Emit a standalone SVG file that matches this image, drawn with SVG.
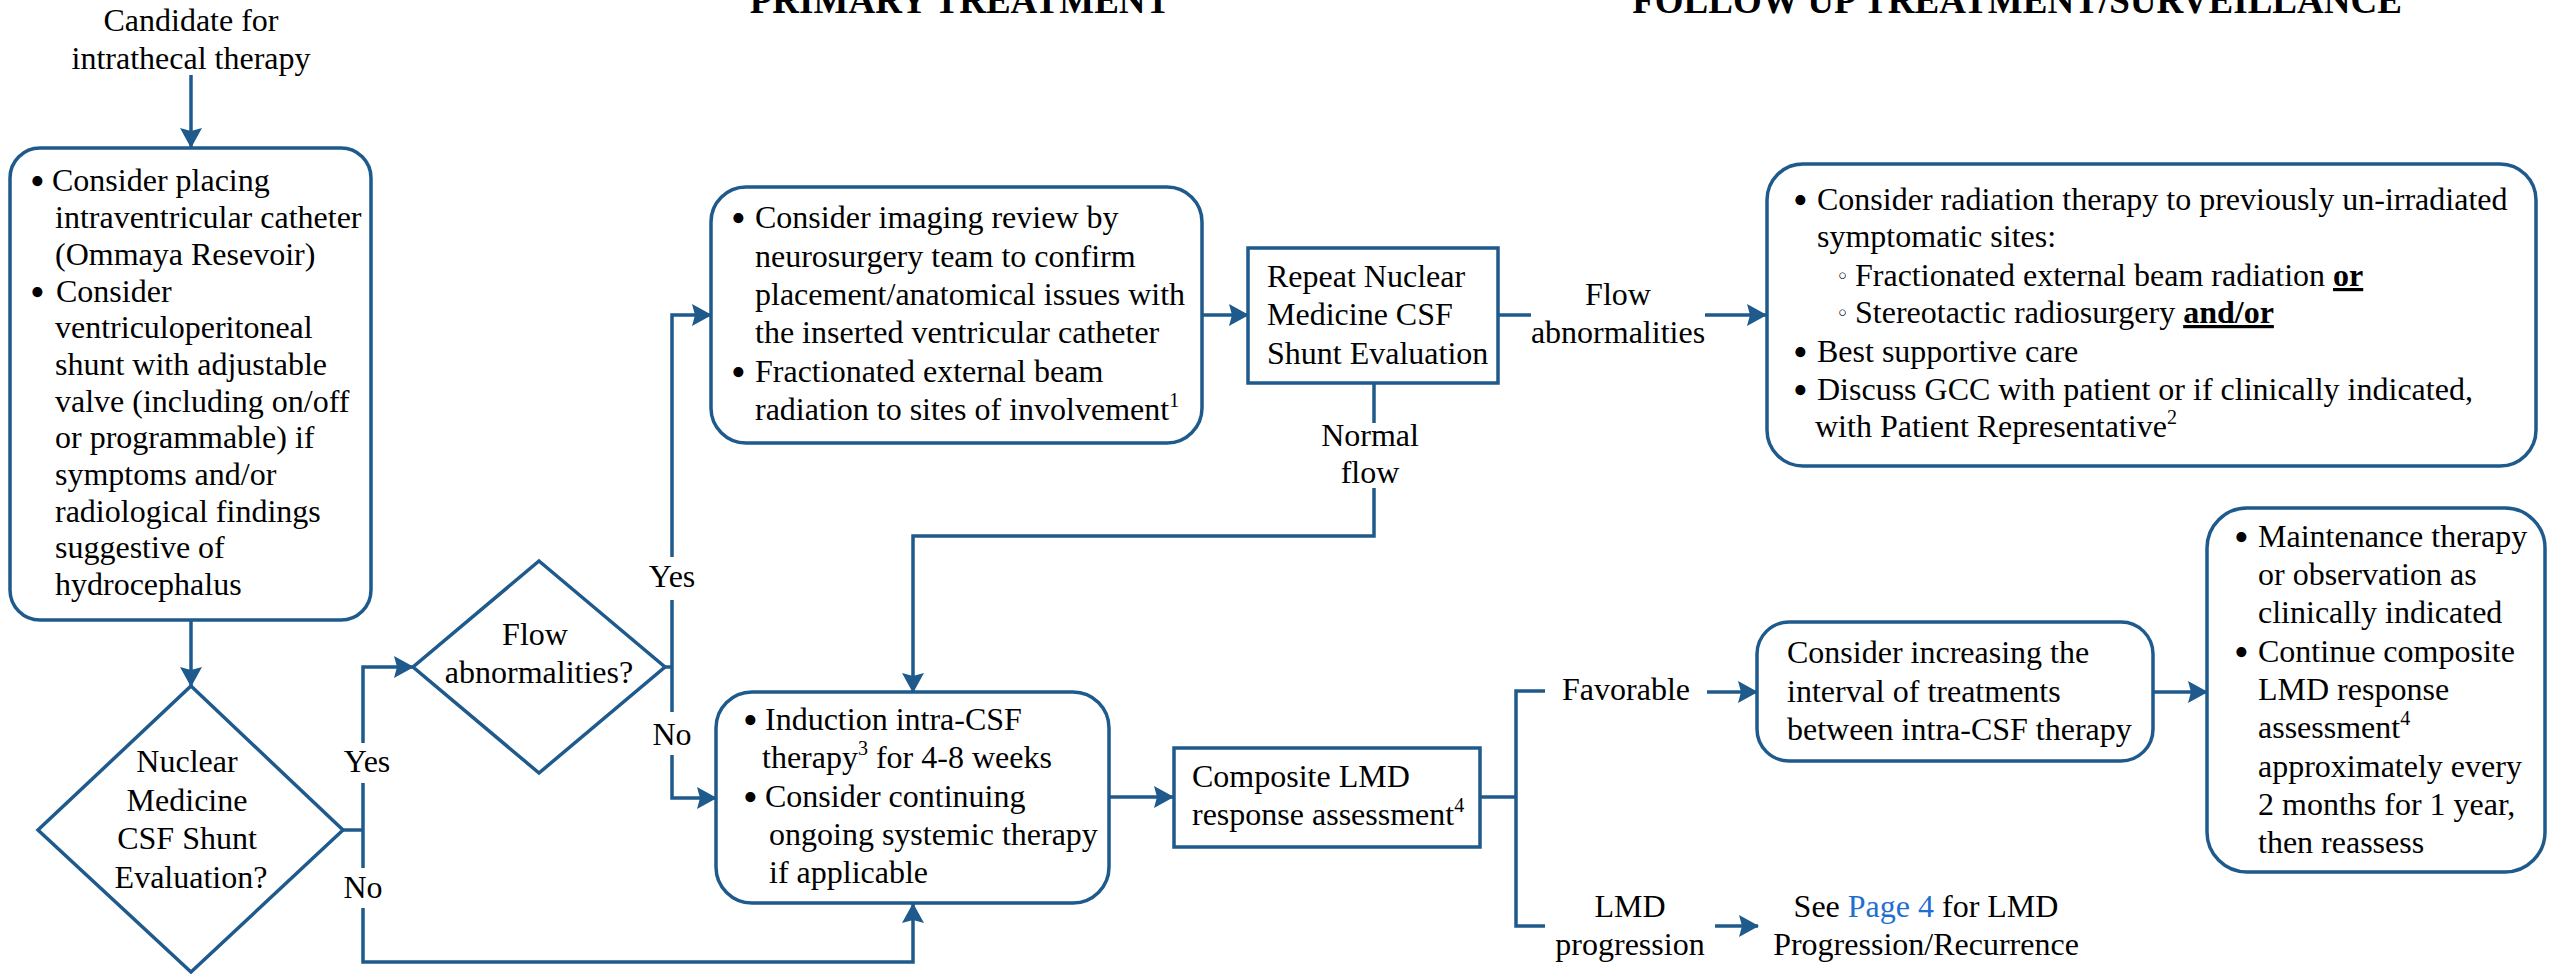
<svg xmlns="http://www.w3.org/2000/svg" width="2556" height="974" viewBox="0 0 2556 974">
<style>
.t{font-family:'Liberation Serif',Tinos,'Times New Roman','Nimbus Roman','DejaVu Serif',serif;font-size:32px;fill:#000}
.c{text-anchor:middle}
.h{font-weight:bold;font-size:37px}
.box{fill:#fff;stroke:#1f5a8c;stroke-width:3.5}
.ln{fill:none;stroke:#1f5a8c;stroke-width:3.5}
.arr{fill:none;stroke:#1f5a8c;stroke-width:3.5;marker-end:url(#ah)}
.sup{font-size:20px}
.bu{font-weight:bold;text-decoration:underline}
.lk{fill:#1f6fd0}
.bl{font-size:42px}
.sb{font-family:'DejaVu Sans',sans-serif;font-size:22px}
</style>
<defs>
<marker id="ah" viewBox="0 0 20 22" refX="19" refY="11" markerWidth="20" markerHeight="22" markerUnits="userSpaceOnUse" orient="auto">
<path d="M0,0 L20,11 L0,22 L3,11 Z" fill="#1f5a8c"/>
</marker>
</defs>
<rect width="2556" height="974" fill="#fff"/>

<g id="headers">
<text class="t h c" x="960" y="13">PRIMARY TREATMENT</text>
<text class="t h c" x="2017" y="13">FOLLOW UP TREATMENT/SURVEILLANCE</text>
</g>

<g id="connectors">
<path class="arr" d="M191,75 V147"/>
<path class="arr" d="M191,620 V686"/>
<path class="ln" d="M343,830 H363"/>
<path class="arr" d="M363,743 V667 H413"/>
<path class="ln" d="M363,783 V868"/>
<path class="arr" d="M363,908 V962 H913 V904"/>
<path class="ln" d="M665,667 H672"/>
<path class="arr" d="M672,557 V315 H711"/>
<path class="ln" d="M672,600 V712"/>
<path class="arr" d="M672,755 V798 H716"/>
<path class="arr" d="M1202,315 H1248"/>
<path class="ln" d="M1498,315 H1531"/>
<path class="arr" d="M1705,315 H1766"/>
<path class="ln" d="M1374,383 V423"/>
<path class="arr" d="M1374,488 V536 H913 V692"/>
<path class="arr" d="M1109,797 H1173"/>
<path class="ln" d="M1480,797 H1516"/>
<path class="ln" d="M1545,691 H1516 V926 H1545"/>
<path class="arr" d="M1707,692 H1757"/>
<path class="arr" d="M1715,926 H1758"/>
<path class="arr" d="M2153,692 H2207"/>
</g>

<g id="candidate">
<text class="t c" x="191" y="31">Candidate for</text>
<text class="t c" x="191" y="69">intrathecal therapy</text>
</g>

<g id="box-catheter">
<rect class="box" x="10" y="148" width="361" height="472" rx="30"/>
<text class="t">
<tspan class="bl" x="30" y="195">•</tspan><tspan x="52" y="191">Consider placing</tspan>
<tspan x="55" y="228">intraventricular catheter</tspan>
<tspan x="55" y="265">(Ommaya Resevoir)</tspan>
<tspan class="bl" x="30" y="306">•</tspan><tspan x="56" y="302">Consider</tspan>
<tspan x="55" y="338">ventriculoperitoneal</tspan>
<tspan x="55" y="375">shunt with adjustable</tspan>
<tspan x="55" y="412">valve (including on/off</tspan>
<tspan x="55" y="448">or programmable) if</tspan>
<tspan x="55" y="485">symptoms and/or</tspan>
<tspan x="55" y="522">radiological findings</tspan>
<tspan x="55" y="558">suggestive of</tspan>
<tspan x="55" y="595">hydrocephalus</tspan>
</text>
</g>

<g id="dec-nuclear">
<polygon class="box" points="191,686 343,830 191,972 38,830"/>
<text class="t c">
<tspan x="191" y="772">Nuclear</tspan>
<tspan x="191" y="811">Medicine</tspan>
<tspan x="191" y="849">CSF Shunt</tspan>
<tspan x="191" y="888">Evaluation?</tspan>
</text>
</g>

<g id="dec-flow">
<polygon class="box" points="539,561 665,667 539,773 413,667"/>
<text class="t c">
<tspan x="539" y="645">Flow</tspan>
<tspan x="539" y="683">abnormalities?</tspan>
</text>
</g>

<g id="labels">
<text class="t c" x="367" y="772">Yes</text>
<text class="t c" x="363" y="898">No</text>
<text class="t c" x="672" y="587">Yes</text>
<text class="t c" x="672" y="745">No</text>
<text class="t c"><tspan x="1618" y="305">Flow</tspan><tspan x="1618" y="343">abnormalities</tspan></text>
<text class="t c"><tspan x="1370" y="446">Normal</tspan><tspan x="1370" y="483">flow</tspan></text>
<text class="t c" x="1626" y="700">Favorable</text>
<text class="t c"><tspan x="1630" y="917">LMD</tspan><tspan x="1630" y="955">progression</tspan></text>
</g>

<g id="box-imaging">
<rect class="box" x="711" y="187" width="491" height="256" rx="35"/>
<text class="t">
<tspan class="bl" x="731" y="232">•</tspan><tspan x="755" y="228">Consider imaging review by</tspan>
<tspan x="755" y="267">neurosurgery team to confirm</tspan>
<tspan x="755" y="305">placement/anatomical issues with</tspan>
<tspan x="755" y="343">the inserted ventricular catheter</tspan>
<tspan class="bl" x="731" y="386">•</tspan><tspan x="755" y="382">Fractionated external beam</tspan>
<tspan x="755" y="420">radiation to sites of involvement</tspan><tspan class="sup" dy="-13">1</tspan>
</text>
</g>

<g id="box-repeat">
<rect class="box" x="1248" y="248" width="250" height="135"/>
<text class="t">
<tspan x="1267" y="287">Repeat Nuclear</tspan>
<tspan x="1267" y="325">Medicine CSF</tspan>
<tspan x="1267" y="364">Shunt Evaluation</tspan>
</text>
</g>

<g id="box-radiation">
<rect class="box" x="1767" y="164" width="769" height="302" rx="36"/>
<text class="t">
<tspan class="bl" x="1793" y="214">•</tspan><tspan x="1817" y="210">Consider radiation therapy to previously un-irradiated</tspan>
<tspan x="1817" y="247">symptomatic sites:</tspan>
<tspan x="1855" y="286">Fractionated external beam radiation </tspan><tspan class="bu">or</tspan>
<tspan x="1855" y="323">Stereotactic radiosurgery </tspan><tspan class="bu">and/or</tspan>
<tspan class="bl" x="1793" y="366">•</tspan><tspan x="1817" y="362">Best supportive care</tspan>
<tspan class="bl" x="1793" y="404">•</tspan><tspan x="1817" y="400">Discuss GCC with patient or if clinically indicated,</tspan>
<tspan x="1815" y="437">with Patient Representative</tspan><tspan class="sup" dy="-13">2</tspan>
</text>
<text class="t sb" x="1836" y="284">◦</text>
<text class="t sb" x="1836" y="321">◦</text>
</g>

<g id="box-induction">
<rect class="box" x="716" y="692" width="393" height="211" rx="36"/>
<text class="t">
<tspan class="bl" x="743" y="734">•</tspan><tspan x="765" y="730">Induction intra-CSF</tspan>
<tspan x="762" y="768">therapy</tspan><tspan class="sup" dy="-13">3</tspan><tspan dy="13"> for 4-8 weeks</tspan>
<tspan class="bl" x="743" y="811">•</tspan><tspan x="765" y="807">Consider continuing</tspan>
<tspan x="769" y="845">ongoing systemic therapy</tspan>
<tspan x="769" y="883">if applicable</tspan>
</text>
</g>

<g id="box-composite">
<rect class="box" x="1174" y="748" width="306" height="99"/>
<text class="t">
<tspan x="1192" y="787">Composite LMD</tspan>
<tspan x="1192" y="825">response assessment</tspan><tspan class="sup" dy="-13">4</tspan>
</text>
</g>

<g id="box-interval">
<rect class="box" x="1757" y="622" width="396" height="139" rx="32"/>
<text class="t">
<tspan x="1787" y="663">Consider increasing the</tspan>
<tspan x="1787" y="702">interval of treatments</tspan>
<tspan x="1787" y="740">between intra-CSF therapy</tspan>
</text>
</g>

<g id="box-maintenance">
<rect class="box" x="2207" y="508" width="338" height="364" rx="40"/>
<text class="t">
<tspan class="bl" x="2234" y="551">•</tspan><tspan x="2258" y="547">Maintenance therapy</tspan>
<tspan x="2258" y="585">or observation as</tspan>
<tspan x="2258" y="623">clinically indicated</tspan>
<tspan class="bl" x="2234" y="666">•</tspan><tspan x="2258" y="662">Continue composite</tspan>
<tspan x="2258" y="700">LMD response</tspan>
<tspan x="2258" y="738">assessment</tspan><tspan class="sup" dy="-13">4</tspan>
<tspan x="2258" y="777">approximately every</tspan>
<tspan x="2258" y="815">2 months for 1 year,</tspan>
<tspan x="2258" y="853">then reassess</tspan>
</text>
</g>

<g id="see-page4">
<text class="t c"><tspan x="1926" y="917">See <tspan class="lk">Page 4</tspan> for LMD</tspan><tspan x="1926" y="955">Progression/Recurrence</tspan></text>
</g>
</svg>
